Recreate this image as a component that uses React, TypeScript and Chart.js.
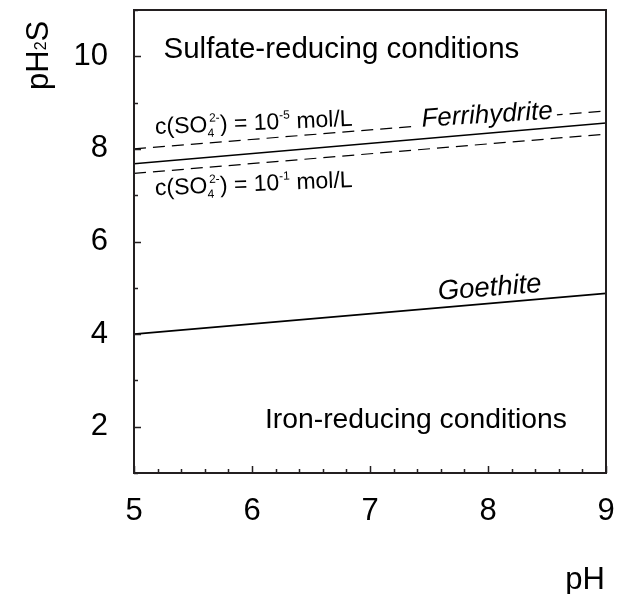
import React, { useEffect, useRef } from 'react';
import { Chart, registerables } from 'chart.js';

Chart.register(...registerables);

// ---- data ----
const PH = [5, 9];
const FERRIHYDRITE = [7.68, 8.56];
const SO4_1E5 = [8.0, 8.82];
const SO4_1E1 = [7.47, 8.32];
const GOETHITE = [4.0, 4.88];
const X_TICKS = [5, 6, 7, 8, 9];
const Y_TICKS = [2, 4, 6, 8, 10];
const X_RANGE = [5, 9];
const Y_RANGE = [1, 11];
const X_MINOR = 0.2;
const Y_MINOR = 1;

const FAMILY = '"Liberation Sans", Arial, Helvetica, sans-serif';

type Seg = { t: string; k?: 'sub' | 'sup' | 'subsup'; t2?: string };

function drawRich(
  ctx: CanvasRenderingContext2D,
  segs: Seg[],
  x: number,
  y: number,
  angle: number,
  size: number,
  italic = false,
  subSize = size * 0.6,
  subDy = size * 0.2,
  supDy = -size * 0.45,
  align: 'left' | 'right' = 'left',
  knockout = false
) {
  const big = `${italic ? 'italic ' : ''}${size}px ${FAMILY}`;
  const small = `${italic ? 'italic ' : ''}${subSize}px ${FAMILY}`;
  ctx.save();
  ctx.textBaseline = 'alphabetic';
  ctx.textAlign = 'left';
  let total = 0;
  for (const s of segs) {
    if (!s.k) {
      ctx.font = big;
      total += ctx.measureText(s.t).width;
    } else {
      ctx.font = small;
      const w1 = ctx.measureText(s.t).width;
      const w2 = s.t2 ? ctx.measureText(s.t2).width + 2 : 0;
      total += Math.max(w1, w2);
    }
  }
  ctx.translate(x, y);
  ctx.rotate((angle * Math.PI) / 180);
  let cx = align === 'right' ? -total : 0;
  if (knockout) {
    ctx.fillStyle = '#fff';
    ctx.fillRect(cx - 10, -size * 0.8, total + 14, size * 0.88);
  }
  ctx.fillStyle = '#000';
  for (const s of segs) {
    if (!s.k) {
      ctx.font = big;
      ctx.fillText(s.t, cx, 0);
      cx += ctx.measureText(s.t).width;
    } else {
      ctx.font = small;
      let w = 0;
      if (s.k === 'sub') {
        ctx.fillText(s.t, cx, subDy);
        w = ctx.measureText(s.t).width;
      } else if (s.k === 'sup') {
        ctx.fillText(s.t, cx, supDy);
        w = ctx.measureText(s.t).width;
      } else {
        ctx.fillText(s.t, cx, subDy);
        ctx.fillText(s.t2 || '', cx + 2, supDy);
        w = Math.max(ctx.measureText(s.t).width, ctx.measureText(s.t2 || '').width + 2);
      }
      cx += w;
    }
  }
  ctx.restore();
}

const overlay = {
  id: 'overlay',
  afterDatasetsDraw(chart: any) {
    const { ctx, chartArea: a, scales } = chart;
    const xs = scales.x;
    const ys = scales.y;
    const X = (v: number) => xs.getPixelForValue(v);
    const Y = (v: number) => ys.getPixelForValue(v);

    // labels on the plot
    drawRich(ctx, [{ t: 'Sulfate-reducing conditions' }], X(5.25), Y(9.96), 0, 29.5);
    drawRich(ctx, [{ t: 'Iron-reducing conditions' }], X(6.11), Y(1.98), 0, 28.3);

    const so4 = (exp: string): Seg[] => [
      { t: 'c(SO' },
      { t: '4', k: 'subsup', t2: '2-' },
      { t: ') = 10' },
      { t: exp, k: 'sup' },
      { t: ' mol/L' },
    ];
    drawRich(ctx, so4('-5'), X(5.18), Y(8.32), -2.4, 23, false, 12, 5, -10);
    drawRich(ctx, so4('-1'), X(5.18), Y(7.0), -2.4, 23, false, 12, 5, -10);

    drawRich(ctx, [{ t: 'Ferrihydrite' }], X(7.44), Y(8.48), -3.5, 26, true, 15, 5, -9, 'left', true);
    drawRich(ctx, [{ t: 'Goethite' }], X(7.58), Y(4.74), -4.4, 27.5, true);

    // frame
    ctx.save();
    ctx.strokeStyle = '#231f20';
    ctx.lineWidth = 2;
    ctx.strokeRect(a.left, a.top, a.right - a.left, a.bottom - a.top);

    // inward ticks
    ctx.lineWidth = 1.5;
    ctx.beginPath();
    for (let v = X_RANGE[0]; v <= X_RANGE[1] + 1e-9; v += X_MINOR) {
      const major = Math.abs(v - Math.round(v)) < 1e-6;
      const px = Math.round(X(v)) + 0.5;
      ctx.moveTo(px, a.bottom);
      ctx.lineTo(px, a.bottom - (major ? 7 : 4));
    }
    for (let v = Y_RANGE[0]; v <= Y_RANGE[1] + 1e-9; v += Y_MINOR) {
      const major = Math.round(v) % 2 === 0;
      const py = Math.round(Y(v)) + 0.5;
      ctx.moveTo(a.left, py);
      ctx.lineTo(a.left + (major ? 7 : 4), py);
    }
    ctx.stroke();
    ctx.restore();

    // axis titles
    drawRich(ctx, [{ t: 'pH' }, { t: '2', k: 'sub' }, { t: 'S' }], 48, 90, -90, 31, false, 16, -2, 0);
    drawRich(ctx, [{ t: 'pH' }], a.right - 1, 589, 0, 31, false, 15, 0, 0, 'right');
  },
};

const noPad = (s: any) => {
  s.paddingTop = 0;
  s.paddingBottom = 0;
  s.paddingLeft = 0;
  s.paddingRight = 0;
};

export default function App() {
  const ref = useRef<HTMLCanvasElement | null>(null);
  useEffect(() => {
    if (!ref.current) return;
    const line = (label: string, ys: number[], dash: number[], width: number) => ({
      label,
      data: PH.map((x, i) => ({ x, y: ys[i] })),
      borderColor: '#000',
      borderWidth: width,
      borderDash: dash,
      pointRadius: 0,
      fill: false,
      tension: 0,
    });
    const chart = new Chart(ref.current, {
      type: 'line',
      data: {
        datasets: [
          line('c(SO4 2-) = 1e-5 mol/L', SO4_1E5, [12, 7], 1.2),
          line('Ferrihydrite', FERRIHYDRITE, [], 1.6),
          line('c(SO4 2-) = 1e-1 mol/L', SO4_1E1, [12, 7], 1.2),
          line('Goethite', GOETHITE, [], 1.6),
        ],
      },
      options: {
        animation: false,
        responsive: false,
        maintainAspectRatio: false,
        layout: { padding: { top: 10, right: 12, left: 0, bottom: 0 } },
        plugins: { legend: { display: false }, tooltip: { enabled: false } },
        scales: {
          x: {
            type: 'linear',
            min: X_RANGE[0],
            max: X_RANGE[1],
            grid: { display: false, drawTicks: false },
            border: { display: false },
            afterBuildTicks: (s: any) => {
              s.ticks = X_TICKS.map((v) => ({ value: v }));
            },
            afterFit: (s: any) => {
              s.height = 121;
              noPad(s);
            },
            ticks: {
              font: { size: 31, family: FAMILY },
              color: '#000',
              padding: 20,
              maxRotation: 0,
              autoSkip: false,
            },
          },
          y: {
            type: 'linear',
            min: Y_RANGE[0],
            max: Y_RANGE[1],
            grid: { display: false, drawTicks: false },
            border: { display: false },
            afterBuildTicks: (s: any) => {
              s.ticks = Y_TICKS.map((v) => ({ value: v }));
            },
            afterFit: (s: any) => {
              s.width = 134;
              noPad(s);
            },
            ticks: {
              font: { size: 31, family: FAMILY },
              color: '#000',
              padding: 26,
              autoSkip: false,
            },
          },
        },
      },
      plugins: [overlay],
    });
    return () => chart.destroy();
  }, []);
  return (
    <div style={{ position: 'absolute', left: 0, top: 0, width: 618, height: 594, background: '#fff' }}>
      <canvas ref={ref} width={618} height={594} />
    </div>
  );
}
